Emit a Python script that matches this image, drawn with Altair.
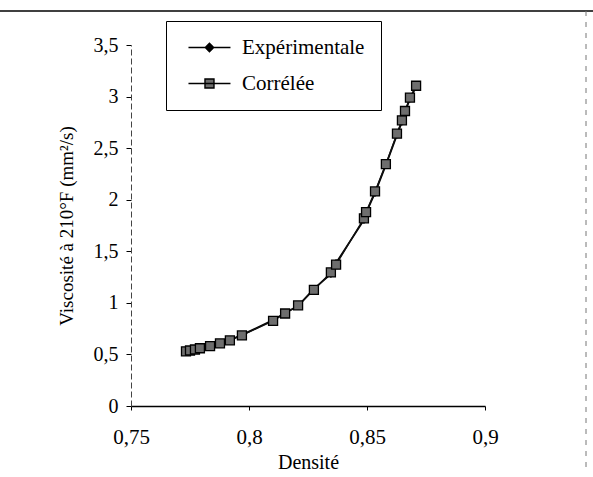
import altair as alt
import pandas as pd

# Density and kinematic viscosity at 210°F
densite = [0.7733, 0.7750, 0.7771, 0.7792, 0.7835, 0.7877, 0.7919, 0.7970,
           0.8102, 0.8153, 0.8208, 0.8275, 0.8347, 0.8369, 0.8487, 0.8496,
           0.8534, 0.8580, 0.8627, 0.8648, 0.8661, 0.8682, 0.8708]
visc_exp = [0.524, 0.533, 0.543, 0.563, 0.572, 0.611, 0.640, 0.689,
            0.834, 0.902, 0.970, 1.135, 1.280, 1.387, 1.804, 1.872,
            2.066, 2.338, 2.629, 2.755, 2.852, 2.978, 3.094]
visc_corr = [0.530, 0.538, 0.548, 0.560, 0.580, 0.607, 0.636, 0.684,
             0.826, 0.897, 0.975, 1.126, 1.295, 1.370, 1.820, 1.880,
             2.080, 2.345, 2.640, 2.770, 2.860, 2.990, 3.105]
series = ["Expérimentale", "Corrélée"]
x_ticks = [0.75, 0.8, 0.85, 0.9]
y_ticks = [0, 0.5, 1, 1.5, 2, 2.5, 3, 3.5]

n = len(densite)
df = pd.DataFrame({
    "densite": densite * 2,
    "visc": visc_exp + visc_corr,
    "serie": [series[0]] * n + [series[1]] * n,
    "ordre": list(range(n)) * 2,
})

FONT = "Liberation Serif"
comma = "replace(toString(datum.value), '.', ',')"

x_enc = alt.X(
    "densite:Q",
    scale=alt.Scale(domain=[0.75, 0.9], nice=False, zero=False),
    axis=alt.Axis(values=x_ticks, labelExpr=comma, title="Densité",
                  tickSize=4, labelPadding=16, titlePadding=5,
                  labelFlush=False, labelFontSize=21,
                  domainWidth=1.5, titleFontSize=20),
)
y_enc = alt.Y(
    "visc:Q",
    scale=alt.Scale(domain=[0, 3.5], nice=False),
    axis=alt.Axis(values=y_ticks, labelExpr=comma,
                  title="Viscosité à 210°F (mm²/s)",
                  tickSize=5, labelPadding=8, titlePadding=17,
                  domainDash=[6, 3], domainColor="#444", titleFontSize=19),
)

base = alt.Chart(df).encode(x=x_enc, y=y_enc, order="ordre:Q")

line_exp = base.transform_filter(alt.datum.serie == series[0]).mark_line(
    color="black", strokeWidth=1.8)
line_corr = base.transform_filter(alt.datum.serie == series[1]).mark_line(
    color="#111", strokeWidth=1.4)
pts_exp = base.transform_filter(alt.datum.serie == series[0]).mark_point(
    shape="diamond", size=64, filled=True, color="black", opacity=1)
pts_corr = base.transform_filter(alt.datum.serie == series[1]).mark_point(
    shape="square", size=81, filled=True, fill="#6e6e6e", stroke="black",
    strokeWidth=1.3, opacity=1)

# Legend: line-with-marker symbols, drawn only in the legend
sym_exp = "M-0.67,0H6.33M2.83,-0.7L3.53,0L2.83,0.7L2.13,0Z"
sym_corr = "M-0.67,0H6.33M2.08,-0.75H3.58V0.75H2.08Z"
leg = alt.Legend(
    title=None, orient="none", legendX=35, legendY=-24,
    symbolSize=144, symbolStrokeWidth=1.4, symbolOpacity=1,
    labelFont=FONT, labelFontSize=21, labelColor="black", labelOffset=39,
    labelLimit=400, padding=16, rowPadding=14,
    strokeColor="black", fillColor="white",
)
legend_layer = base.mark_point(filled=True, opacity=0).encode(
    shape=alt.Shape("serie:N", scale=alt.Scale(domain=series, range=[sym_exp, sym_corr]), legend=leg),
    fill=alt.Fill("serie:N", scale=alt.Scale(domain=series, range=["black", "#6e6e6e"]), legend=leg),
    stroke=alt.Stroke("serie:N", scale=alt.Scale(domain=series, range=["black", "black"]), legend=leg),
)

# Outer frame of the chart area
frame_df = pd.DataFrame({"k": [0]})
frame_top = alt.Chart(frame_df).mark_rule(color="black", strokeWidth=1.5).encode(
    x=alt.value(-131), x2=alt.value(462), y=alt.value(-34))
frame_right = alt.Chart(frame_df).mark_rule(color="#777", strokeWidth=1, strokeDash=[5, 6]).encode(
    x=alt.value(455), y=alt.value(-34), y2=alt.value(425))

chart = alt.layer(
    frame_top, frame_right, line_exp, line_corr, pts_exp, pts_corr, legend_layer
).properties(
    width=354, height=361,
    padding={"left": 131, "top": 45, "right": 108, "bottom": 71},
    autosize="none", background="white",
).configure_axis(
    grid=False, labelFont=FONT, titleFont=FONT, labelFontSize=20,
    titleFontWeight="normal", labelColor="black", titleColor="black",
    tickColor="black", domainColor="black",
).configure_view(stroke=None)

chart.save("out.html", embed_options={"renderer": "svg", "actions": False})
